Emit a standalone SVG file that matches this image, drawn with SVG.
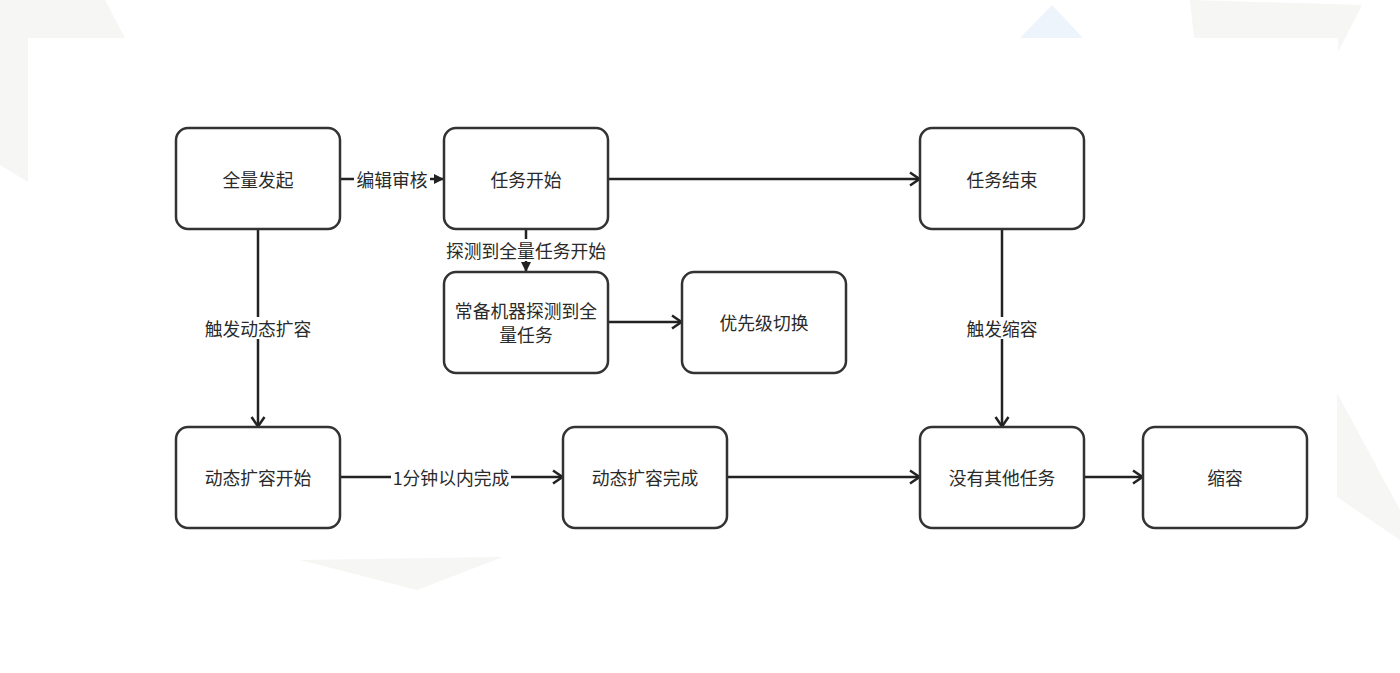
<svg xmlns="http://www.w3.org/2000/svg" width="1400" height="673" viewBox="0 0 1400 673">
<defs>
<style>
.node rect{fill:#fff;stroke:#333;stroke-width:2.5}
.node text,.lbl text{font-family:"Noto Sans CJK SC","Noto Sans",sans-serif;font-size:17.8px;fill:#2a2a2a;text-anchor:middle;dominant-baseline:central}
.lbl rect{fill:#fff}
.edge{fill:none;stroke:#222;stroke-width:2.5}
.bg{fill:#f6f6f5}
</style>
<marker id="open" viewBox="0 0 12 16" refX="11" refY="8" markerWidth="12" markerHeight="16" markerUnits="userSpaceOnUse" orient="auto">
<path d="M1,1.5 L10.5,8 L1,14.5" fill="none" stroke="#222" stroke-width="2.5"/>
</marker>
<marker id="block" viewBox="0 0 10 10" refX="10" refY="5" markerWidth="10" markerHeight="10" markerUnits="userSpaceOnUse" orient="auto">
<path d="M0,0 L10,5 L0,10 z" fill="#222"/>
</marker>
</defs>
<rect width="1400" height="673" fill="#fff"/>
<g id="background">
<polygon class="bg" points="0,0 105,0 125,38 28,38 28,182 0,165"/>
<polygon points="1052,5 1083,38 1020,38" fill="#eef4fb"/>
<polygon class="bg" points="1190,0 1362,5 1338,52 1338,38 1194,38"/>
<polygon class="bg" points="1337,393 1400,510 1400,540 1337,497"/>
<polygon class="bg" points="300,560 503,557 417,590"/>
</g>
<g id="connectors">
<line class="edge" x1="340" y1="179" x2="444" y2="179" marker-end="url(#block)"/>
<line class="edge" x1="608" y1="179" x2="920" y2="179" marker-end="url(#open)"/>
<line class="edge" x1="526" y1="229" x2="526" y2="272" marker-end="url(#block)"/>
<line class="edge" x1="608" y1="322" x2="682" y2="322" marker-end="url(#open)"/>
<line class="edge" x1="258" y1="229" x2="258" y2="427" marker-end="url(#open)"/>
<line class="edge" x1="340" y1="477" x2="563" y2="477" marker-end="url(#open)"/>
<line class="edge" x1="727" y1="477" x2="920" y2="477" marker-end="url(#open)"/>
<line class="edge" x1="1002" y1="229" x2="1002" y2="427" marker-end="url(#open)"/>
<line class="edge" x1="1084" y1="477" x2="1143" y2="477" marker-end="url(#open)"/>
<g class="lbl"><rect x="354" y="168" width="76" height="22"/><text x="392" y="179">编辑审核</text></g>
<g class="lbl"><rect x="445" y="239" width="162" height="22"/><text x="526" y="250">探测到全量任务开始</text></g>
<g class="lbl"><rect x="203" y="317" width="110" height="22"/><text x="258" y="328">触发动态扩容</text></g>
<g class="lbl"><rect x="391" y="466" width="120" height="22"/><text x="451" y="477">1分钟以内完成</text></g>
<g class="lbl"><rect x="965" y="317" width="74" height="22"/><text x="1002" y="328">触发缩容</text></g>
</g>
<g id="n1" class="node"><rect x="176" y="128" width="164" height="101" rx="12"/><text x="258" y="179">全量发起</text></g>
<g id="n2" class="node"><rect x="444" y="128" width="164" height="101" rx="12"/><text x="526" y="179">任务开始</text></g>
<g id="n3" class="node"><rect x="920" y="128" width="164" height="101" rx="12"/><text x="1002" y="179">任务结束</text></g>
<g id="n4" class="node"><rect x="444" y="272" width="164" height="101" rx="12"/><text x="526" y="310">常备机器探测到全</text><text x="526" y="334">量任务</text></g>
<g id="n5" class="node"><rect x="682" y="272" width="164" height="101" rx="12"/><text x="764" y="322">优先级切换</text></g>
<g id="n6" class="node"><rect x="176" y="427" width="164" height="101" rx="12"/><text x="258" y="477">动态扩容开始</text></g>
<g id="n7" class="node"><rect x="563" y="427" width="164" height="101" rx="12"/><text x="645" y="477">动态扩容完成</text></g>
<g id="n8" class="node"><rect x="920" y="427" width="164" height="101" rx="12"/><text x="1002" y="477">没有其他任务</text></g>
<g id="n9" class="node"><rect x="1143" y="427" width="164" height="101" rx="12"/><text x="1225" y="477">缩容</text></g>
</svg>
